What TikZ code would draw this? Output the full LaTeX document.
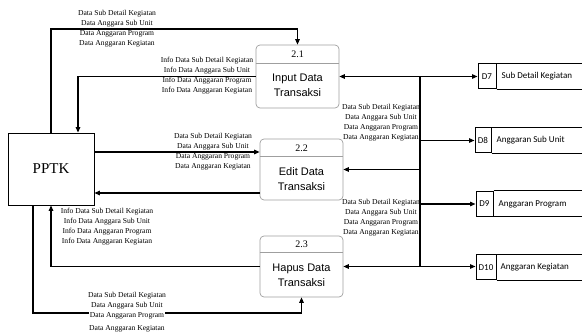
\documentclass[tikz,border=0pt]{standalone}
\usepackage{fontspec}
\setmainfont{Liberation Serif}
\newfontfamily\boxfont{Liberation Sans}
\newfontfamily\storefont{Carlito}
\usetikzlibrary{arrows.meta}
\begin{document}
\begin{tikzpicture}[x=1pt,y=-1pt,
  flow/.style={line width=1.2pt,-{Triangle[length=5.5pt,width=4.5pt]}},
  biflow/.style={line width=1.2pt,{Triangle[length=5.5pt,width=4.5pt]}-{Triangle[length=5.5pt,width=4.5pt]}},
  plain/.style={line width=1.2pt},
  lbl/.style={font=\fontsize{7.6}{10}\selectfont, align=center, inner sep=0pt},
  proc/.style={draw=gray!75, rounded corners=4pt, line width=0.7pt, minimum width=83pt, inner sep=0pt},
  pdiv/.style={draw=gray!75, line width=0.7pt},
  pnum/.style={font=\fontsize{10}{12}\selectfont, inner sep=0pt},
  pname/.style={font=\boxfont\fontsize{11}{15}\selectfont, align=center, inner sep=0pt},
  storeid/.style={draw, line width=1pt, minimum height=25pt, inner sep=0pt, font=\storefont\fontsize{9}{11}\selectfont},
  storeedge/.style={line width=1pt},
  storelbl/.style={font=\storefont\fontsize{9}{11}\selectfont, inner sep=0pt, anchor=west},
  ext/.style={draw, line width=0.8pt, minimum width=86pt, minimum height=72pt, inner sep=0pt, font=\fontsize{15}{17}\selectfont}
]
\useasboundingbox (0,0) rectangle (582,336);

% external entity
\node[ext] (pptk) at (51,169) {PPTK};

% processes
\node[proc, minimum height=63pt] (p1) at (297.5,76.5) {};
\draw[pdiv] (p1.west |- 0,63) -- (p1.east |- 0,63);
\node[pnum] (p1n) at (297.5,54.5) {2.1};
\node[pname] (p1t) at (297.5,85.5) {Input Data\\Transaksi};

\node[proc, minimum height=61pt] (p2) at (301.5,169.5) {};
\draw[pdiv] (p2.west |- 0,156) -- (p2.east |- 0,156);
\node[pnum] (p2n) at (301.5,148) {2.2};
\node[pname] (p2t) at (301.5,179) {Edit Data\\Transaksi};

\node[proc, minimum height=61pt] (p3) at (301.5,266.5) {};
\draw[pdiv] (p3.west |- 0,252) -- (p3.east |- 0,252);
\node[pnum] (p3n) at (301.5,244.5) {2.3};
\node[pname] (p3t) at (301.5,275) {Hapus Data\\Transaksi};

% data stores
\coordinate (edge) at (583,0);
\node[storeid, minimum width=18pt] (d7) at (487,76.5) {D7};
\draw[storeedge] (d7.north east) -- (d7.north east -| edge);
\draw[storeedge] (d7.south east) -- (d7.south east -| edge);
\node[storelbl] (d7l) at ([xshift=5pt]d7.east) {Sub Detail Kegiatan};

\node[storeid, minimum width=16pt] (d8) at (483,140.5) {D8};
\draw[storeedge] (d8.north east) -- (d8.north east -| edge);
\draw[storeedge] (d8.south east) -- (d8.south east -| edge);
\node[storelbl] (d8l) at ([xshift=5pt]d8.east) {Anggaran Sub Unit};

\node[storeid, minimum width=17pt] (d9) at (484.5,204) {D9};
\draw[storeedge] (d9.north east) -- (d9.north east -| edge);
\draw[storeedge] (d9.south east) -- (d9.south east -| edge);
\node[storelbl] (d9l) at ([xshift=5pt]d9.east) {Anggaran Program};

\node[storeid, minimum width=20pt] (d10) at (486,267.5) {D10};
\draw[storeedge] (d10.north east) -- (d10.north east -| edge);
\draw[storeedge] (d10.south east) -- (d10.south east -| edge);
\node[storelbl] (d10l) at ([xshift=4pt]d10.east) {Anggaran Kegiatan};

% helper coordinates
\coordinate (t1) at (51,29);
\coordinate (i1) at (78,0);
\coordinate (r152) at (0,152);
\coordinate (r193) at (0,193);
\coordinate (b1) at (33,313);
\coordinate (bus) at (420,0);

% PPTK <-> 2.1
\draw[flow] (pptk.north) -- (t1) -| (p1.north);
\draw[flow] (p1.west) -| (pptk.north -| i1);
% PPTK <-> 2.2
\draw[flow] (pptk.east |- r152) -- (p2.west |- r152);
\draw[flow] (p2.west |- r193) -- (pptk.east |- r193);
% PPTK <-> 2.3
\draw[flow] (p3.west) -| (pptk.south);
\draw[flow] (pptk.south -| b1) -- (b1) -| (p3.south);

% bus to stores
\draw[biflow] (p1.east) -- (p1.east -| d7.west);
\draw[biflow] (p3.east) -- (p3.east -| d10.west);
\draw[plain] (bus |- p1.east) -- (bus |- p3.east);
\draw[flow] (bus |- d8.west) -- (d8.west);
\draw[flow] (bus |- d9.west) -- (d9.west);
\draw[flow] (bus |- p2.east) -- (p2.east);

% labels
\node[lbl] (l1) at (117,29) {Data Sub Detail Kegiatan\\Data Anggara Sub Unit\\Data Anggaran Program\\Data Anggaran Kegiatan};
\node[lbl] (l2) at (207,76) {Info Data Sub Detail Kegiatan\\Info Data Anggara Sub Unit\\Info Data Anggaran Program\\Info Data Anggaran Kegiatan};
\node[lbl] (l3) at (213,151.5) {Data Sub Detail Kegiatan\\Data Anggara Sub Unit\\Data Anggaran Program\\Data Anggaran Kegiatan};
\node[lbl] (l4) at (107,227) {Info Data Sub Detail Kegiatan\\Info Data Anggara Sub Unit\\Info Data Anggaran Program\\Info Data Anggaran Kegiatan};
\node[lbl] (l5) at (381,123) {Data Sub Detail Kegiatan\\Data Anggara Sub Unit\\Data Anggaran Program\\Data Anggaran Kegiatan};
\node[lbl] (l6) at (381,217.5) {Data Sub Detail Kegiatan\\Data Anggara Sub Unit\\Data Anggaran Program\\Data Anggaran Kegiatan};
\node[lbl] (l7a) at (127,296) {Data Sub Detail Kegiatan};
\node[lbl] (l7b) at (127,306) {Data Anggara Sub Unit};
\node[lbl, fill=white, inner xsep=1pt, inner ysep=1pt] (l7c) at (127,316) {Data Anggaran Program};
\node[lbl] (l7d) at (127,329) {Data Anggaran Kegiatan};
\end{tikzpicture}
\end{document}
